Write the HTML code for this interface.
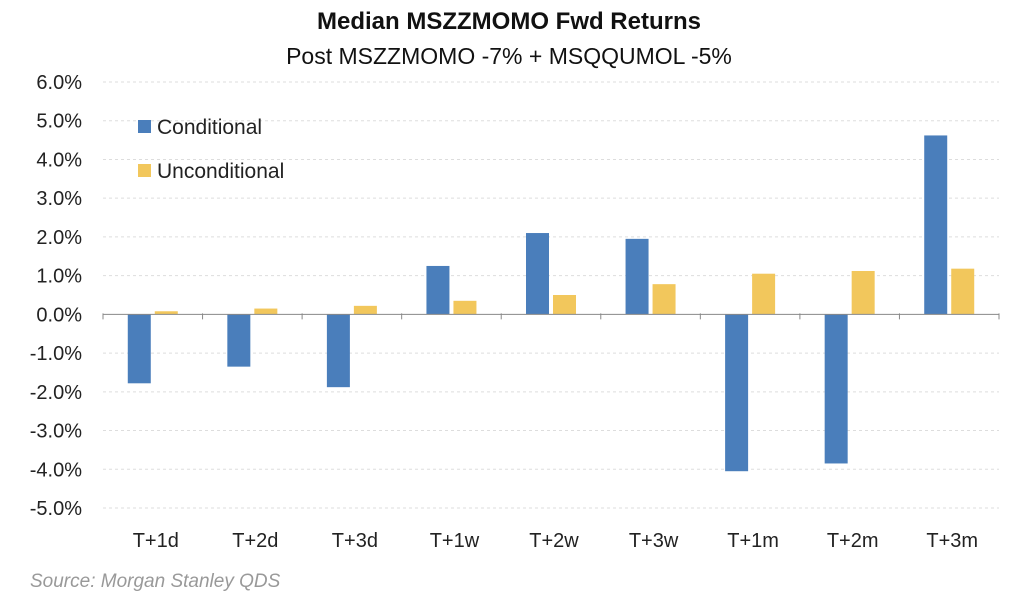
<!DOCTYPE html>
<html><head><meta charset="utf-8"><style>
body{margin:0;background:#fff;}
svg text{font-family:"Liberation Sans",sans-serif;}
</style></head><body>
<svg id="chart" width="1018" height="602" xmlns="http://www.w3.org/2000/svg">
<text x="509" y="29" text-anchor="middle" font-size="24" font-weight="bold" fill="#111">Median MSZZMOMO Fwd Returns</text>
<text x="509" y="64" text-anchor="middle" font-size="23" fill="#111">Post MSZZMOMO -7% + MSQQUMOL -5%</text>
<g id="plot"></g>
<rect x="138" y="120" width="13" height="13" fill="#4a7ebb"/>
<text x="157" y="134" font-size="21" fill="#222">Conditional</text>
<rect x="138" y="164" width="13" height="13" fill="#f2c75c"/>
<text x="157" y="178" font-size="21" fill="#222">Unconditional</text>
<text x="30" y="587" font-size="19" font-style="italic" fill="#999">Source: Morgan Stanley QDS</text>
</svg>
<script>
const categories=["T+1d","T+2d","T+3d","T+1w","T+2w","T+3w","T+1m","T+2m","T+3m"];
const conditional=[-1.78,-1.35,-1.88,1.25,2.1,1.95,-4.05,-3.85,4.62];
const unconditional=[0.08,0.15,0.22,0.35,0.5,0.78,1.05,1.12,1.18];
const yTicks=[6,5,4,3,2,1,0,-1,-2,-3,-4,-5];
const NS="http://www.w3.org/2000/svg";
const g=document.getElementById('plot');
const x0=103,x1=999,yTop=82,yBot=508,vMax=6,vMin=-5;
const y=v=>yTop+(vMax-v)/(vMax-vMin)*(yBot-yTop);
const bw=(x1-x0)/categories.length;
const xc=i=>x0+bw*(i+0.5);
function mk(tag,attrs){const e=document.createElementNS(NS,tag);for(const k in attrs)e.setAttribute(k,attrs[k]);g.appendChild(e);return e;}
yTicks.forEach(t=>{
  const e=mk('text',{x:82,y:y(t)+7,'text-anchor':'end','font-size':20,fill:'#222'});
  e.textContent=t.toFixed(1)+'%';
  
  
  if(t!==0){
    const gl=mk('line',{x1:x0,x2:x1,y1:y(t),y2:y(t),stroke:'#ddd','stroke-dasharray':'3,3'});
    
    
  }
});
categories.forEach((c,i)=>{
  const w=23;
  const b1=mk('rect',{x:xc(i)-w-2,y:Math.min(y(0),y(conditional[i])),width:w,height:Math.abs(y(conditional[i])-y(0)),fill:'#4a7ebb'});
  
  
  const b2=mk('rect',{x:xc(i)+2,y:Math.min(y(0),y(unconditional[i])),width:w,height:Math.abs(y(unconditional[i])-y(0)),fill:'#f2c75c'});
  
  
  const t=mk('text',{x:xc(i)+3,y:547,'text-anchor':'middle','font-size':20,fill:'#222'});
  t.textContent=c;
  
  
});
for(let i=0;i<=categories.length;i++){
  const tk=mk('line',{x1:x0+bw*i,x2:x0+bw*i,y1:y(0)-1,y2:y(0)+5,stroke:'#888'});
  
  
}
const zl=mk('line',{x1:x0,x2:x1,y1:y(0),y2:y(0),stroke:'#888'});


</script>
</body></html>
